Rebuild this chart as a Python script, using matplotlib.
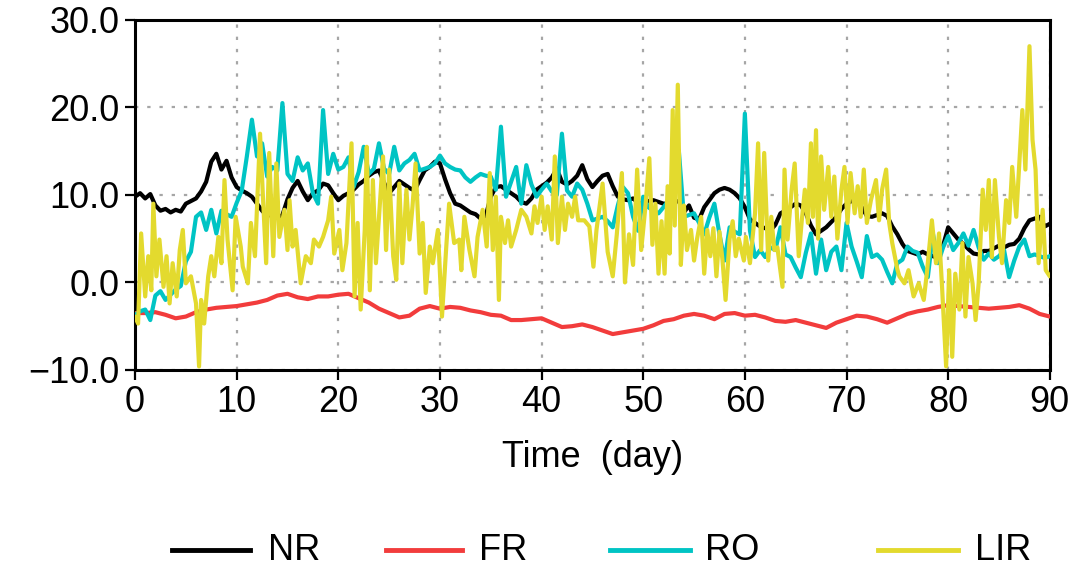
import numpy as np
import matplotlib
matplotlib.use("Agg")
import matplotlib.pyplot as plt
from matplotlib.lines import Line2D
from matplotlib.ticker import FuncFormatter

plt.rcParams["font.family"] = ["Liberation Sans", "DejaVu Sans"]

# ---- data ----
# FR: daily values, day 0..90
fr = [-3.5, -3.5, -3.4, -3.7, -4.1, -3.9, -3.4, -3.1, -2.9, -2.8,
      -2.7, -2.5, -2.3, -2.0, -1.5, -1.3, -1.7, -1.9, -1.6, -1.6,
      -1.4, -1.3, -1.8, -2.3, -3.0, -3.5, -4.0, -3.8, -3.0, -2.7,
      -3.0, -2.8, -2.9, -3.2, -3.4, -3.7, -3.8, -4.3, -4.3, -4.2,
      -4.1, -4.6, -5.1, -5.0, -4.8, -5.1, -5.5, -5.9, -5.7, -5.5,
      -5.3, -4.9, -4.4, -4.2, -3.8, -3.6, -3.8, -4.2, -3.6, -3.5,
      -3.8, -3.7, -4.0, -4.4, -4.5, -4.3, -4.6, -4.9, -5.2, -4.6,
      -4.2, -3.8, -3.9, -4.2, -4.6, -4.1, -3.6, -3.3, -3.1, -2.8,
      -2.6, -2.7, -2.8, -2.9, -3.0, -2.9, -2.8, -2.6, -3.0, -3.6,
      -3.9]

# NR: half-day values, day 0..90
nr = [9.8, 10.2, 9.6, 10.1, 8.8, 8.2, 8.4, 8.0, 8.3, 8.1,
      9.0, 9.3, 9.6, 10.4, 11.5, 13.8, 14.7, 12.9, 13.9, 12.0,
      10.9, 10.5, 10.2, 9.8, 9.0, 8.2, 7.6, 7.8, 7.4, 7.7,
      9.5, 10.8, 11.6, 10.4, 9.4, 10.2, 10.5, 11.3, 11.1, 10.2,
      9.4, 9.9, 10.2, 10.6, 11.2, 11.6, 12.2, 12.6, 12.8, 11.4,
      10.2, 10.9, 11.6, 11.2, 10.8, 10.5, 11.7, 12.8, 13.2, 13.8,
      13.6, 11.8, 10.2, 9.0, 8.8, 8.4, 8.0, 7.8, 7.3, 7.6,
      9.8, 10.9, 11.0, 10.6, 10.2, 9.8, 9.2, 9.0, 9.6, 10.6,
      11.0, 11.4, 12.0, 13.0, 11.5, 11.2, 11.6, 12.2, 13.4, 11.8,
      10.9, 11.6, 12.2, 12.4, 11.0, 9.8, 9.5, 9.4, 9.6, 9.1,
      9.0, 9.3, 9.4, 9.2, 9.0, 9.0, 9.2, 9.3, 8.0, 8.8,
      7.4, 7.2, 8.6, 9.4, 10.2, 10.6, 10.8, 10.6, 10.2, 9.6,
      8.6, 7.2, 6.8, 6.4, 6.2, 5.9, 6.6, 7.9, 8.2, 8.6,
      9.0, 8.8, 7.9, 6.5, 5.5, 5.9, 6.3, 6.9, 7.5, 8.4,
      9.0, 9.3, 9.4, 8.6, 7.6, 7.5, 7.7, 7.9, 7.6, 6.4,
      5.5, 4.4, 3.6, 3.4, 3.2, 3.5, 3.2, 3.0, 2.8, 4.2,
      6.3, 5.6, 4.9, 4.4, 3.8, 3.3, 3.2, 3.6, 3.6, 3.9,
      4.2, 4.0, 4.3, 4.4, 5.0, 6.2, 7.1, 7.3, 7.5, 6.4,
      6.7]

# RO: half-day values, day 0..90
ro = [-3.7, -3.3, -3.1, -4.3, -1.5, -1.0, -2.0, -1.4, -0.8, -0.4,
      2.4, 3.5, 7.5, 8.0, 6.0, 8.3, 5.6, 8.2, 7.8, 7.5,
      9.1, 10.5, 14.4, 18.6, 14.4, 15.9, 12.1, 13.2, 12.8, 20.5,
      12.4, 11.6, 14.3, 12.8, 13.6, 10.2, 9.0, 19.7, 12.4, 14.7,
      12.9, 13.2, 14.3, 10.9, 12.6, 15.5, 12.4, 13.0, 15.9, 13.0,
      12.4, 15.5, 12.8, 13.6, 14.0, 14.7, 12.8, 13.0, 13.2, 13.6,
      14.5, 13.6, 13.2, 12.9, 12.8, 12.0, 11.5, 12.0, 12.4, 12.2,
      12.1, 10.6, 17.8, 9.8, 11.5, 13.2, 9.0, 13.4, 11.2, 9.8,
      10.6, 11.3, 10.4, 10.0, 17.0, 10.5, 9.8, 11.3, 10.6, 9.0,
      7.1, 7.3, 7.5, 7.0, 6.3, 8.8, 10.9, 10.2, 7.5, 5.9,
      9.8, 8.6, 8.2, 7.9, 8.6, 9.4, 11.0, 15.1, 7.5, 7.7,
      7.9, 6.8, 5.5, 7.4, 9.0, 5.5, 2.5, 6.3, 5.8, 5.5,
      19.3, 5.9, 2.9, 3.7, 2.9, 4.0, 3.7, 6.3, 3.2, 2.9,
      1.7, 0.6, 3.4, 5.6, 1.0, 4.9, 1.4, 3.5, 4.1, 1.4,
      6.8, 4.1, 2.4, 0.6, 5.3, 2.9, 3.2, 2.6, 1.2, -0.1,
      2.2, 2.6, 4.1, 3.6, 3.4, 1.8, 0.6, 5.6, 2.2, 4.0,
      5.3, 3.7, 4.5, 5.6, 4.2, 6.0, 4.0, 2.6, 3.3, 2.6,
      3.0, 3.7, 0.6, 2.5, 4.1, 4.9, 3.0, 3.2, 3.0, 2.8,
      3.0]

# LIR: irregular sample times
lir_day = [0.0, 0.3, 0.6, 1.0, 1.3, 1.6, 1.8, 2.1, 2.4, 2.8, 3.1, 3.4, 3.7, 4.1, 4.4,
           4.7, 5.0, 5.5, 6.0, 6.3, 6.5, 6.8, 7.2, 7.5, 7.8, 8.2, 8.5, 8.8, 9.1, 9.6,
           9.9, 10.4, 10.6, 11.1, 11.4, 11.8, 12.3, 12.6, 12.9, 13.2, 13.6, 13.9, 14.2, 14.7, 15.0,
           15.2, 15.5, 15.8, 16.3, 16.8, 17.3, 17.6, 18.1, 18.5, 19.0, 19.3, 19.6, 20.1, 20.4, 20.8,
           21.3, 21.6, 21.9, 22.2, 22.6, 22.8, 23.1, 23.4, 23.7, 24.0, 24.4, 24.7, 25.0, 25.4, 25.7,
           26.0, 26.3, 26.7, 27.0, 27.3, 27.6, 28.0, 28.3, 28.6, 29.0, 29.3, 29.8, 30.2, 30.6, 30.9,
           31.4, 31.9, 32.1, 32.4, 32.9, 33.4, 33.7, 34.2, 34.6, 34.9, 35.2, 35.5, 35.8, 36.0, 36.4,
           36.7, 37.0, 37.5, 38.0, 38.5, 39.0, 39.3, 39.6, 40.0, 40.3, 40.6, 41.0, 41.3, 41.6, 42.0,
           42.3, 42.6, 43.0, 43.3, 43.6, 44.2, 44.7, 45.1, 45.4, 46.0, 46.5, 47.0, 47.4, 47.9, 48.2,
           48.6, 49.0, 49.4, 49.8, 50.2, 50.6, 50.9, 51.2, 51.5, 51.8, 52.1, 52.4, 52.6, 52.9, 53.1,
           53.4, 53.7, 54.0, 54.3, 54.7, 55.0, 55.3, 55.7, 56.0, 56.3, 56.6, 56.9, 57.2, 57.5, 57.8,
           58.1, 58.5, 58.8, 59.1, 59.4, 59.9, 60.1, 60.5, 61.0, 61.3, 61.6, 61.9, 62.3, 62.6, 62.9,
           63.2, 63.7, 63.9, 64.2, 64.6, 64.9, 65.3, 65.6, 65.9, 66.2, 66.5, 66.7, 67.0, 67.2, 67.5,
           67.8, 68.2, 68.5, 68.8, 69.1, 69.5, 69.8, 70.1, 70.4, 70.8, 71.1, 71.4, 71.7, 72.0, 72.4,
           72.9, 73.2, 73.5, 73.9, 74.2, 74.5, 75.0, 75.2, 75.7, 76.1, 76.6, 77.1, 77.6, 77.9, 78.4,
           78.8, 79.1, 79.4, 79.8, 80.1, 80.4, 80.7, 81.1, 81.4, 81.7, 82.0, 82.4, 82.7, 83.0, 83.4,
           83.7, 84.0, 84.3, 84.6, 85.0, 85.3, 85.7, 86.0, 86.3, 86.7, 87.0, 87.3, 87.6, 88.0, 88.3,
           88.6, 88.9, 89.3, 89.6, 90.0]
lir_val = [-3.9, -4.7, 5.6, -1.6, 3.0, -0.9, 9.0, 0.7, 4.9, -0.5, 3.0, -2.4, 2.2, -1.6, 3.7,
           6.0, -0.1, 0.7, -2.4, -9.6, -2.0, -4.7, 0.7, 3.0, 0.7, 5.2, 2.2, 11.7, 4.9, -0.9,
           7.5, 4.1, 1.8, -0.1, 6.8, 3.0, 17.0, 9.4, 2.2, 14.8, 3.0, 13.6, 5.2, 8.3, 3.7,
           9.4, 4.1, 6.0, -0.1, 3.0, 2.2, 4.9, 4.1, 5.2, 7.1, 9.8, 3.3, 6.0, 1.4, 4.5,
           15.9, -1.6, 6.8, -3.1, 6.0, 15.5, -0.9, 11.7, 2.2, 7.5, 14.4, 3.7, 12.9, 3.0, 0.3,
           11.3, 2.2, 10.6, 4.9, 8.7, 13.6, 3.3, 6.8, -1.2, 4.1, 2.2, 6.0, -3.9, 3.7, 9.0,
           4.5, 4.9, 1.4, 7.5, 3.7, 0.7, 5.2, 8.3, 4.1, 12.5, 3.7, 9.8, -2.0, 7.5, 4.5,
           7.1, 4.1, 6.0, 8.3, 7.5, 5.6, 8.7, 6.8, 9.8, 6.0, 8.7, 4.9, 14.4, 4.5, 9.8,
           6.0, 9.0, 7.5, 9.8, 7.1, 7.1, 6.4, 1.8, 6.0, 11.3, 3.5, 0.7, 5.5, 12.5, 0.0,
           5.5, 2.0, 12.9, 3.7, 8.5, 14.2, 4.3, 9.0, 1.0, 7.0, 1.0, 11.0, 3.3, 19.7, 6.5,
           22.6, 2.0, 8.8, 3.7, 6.0, 2.5, 5.0, 7.5, 1.0, 6.0, 3.0, 6.2, 0.7, 5.8, 2.5,
           -2.0, 5.0, 7.0, 3.0, 5.0, 2.5, 5.2, 2.2, 7.9, 15.9, 3.7, 14.8, 2.5, 7.5, 3.7,
           4.0, -0.5, 12.9, 4.9, 10.6, 13.6, 3.0, 7.1, 10.6, 6.8, 15.9, 7.5, 17.4, 5.0, 14.4,
           8.3, 13.2, 7.5, 12.1, 5.0, 10.6, 13.2, 6.8, 12.5, 7.9, 11.0, 7.5, 12.9, 6.8, 9.4,
           11.7, 7.1, 10.6, 12.9, 6.8, 4.5, 1.5, 0.7, -0.1, 1.4, -1.6, -0.1, -2.0, 1.0, 7.1,
           2.2, 5.6, -0.5, -9.6, 1.4, -8.5, 1.0, -3.1, 4.5, -3.9, 2.9, -0.1, -4.3, -0.1, 10.6,
           6.0, 11.7, 2.9, 11.7, 5.2, 2.2, 9.4, 6.8, 13.2, 7.5, 13.6, 19.7, 12.9, 27.0, 16.3,
           12.9, 2.2, 8.3, 1.4, 0.7]

series_names = ["NR", "FR", "RO", "LIR"]
series_colors = ["black", "#f23c3c", "#00c4c4", "#e3da2e"]

day_half = np.linspace(0, 90, len(nr))
day_full = np.linspace(0, 90, len(fr))
day_ro = np.linspace(0, 90, len(ro))

fig = plt.figure(figsize=(10.89, 5.70), dpi=100)
ax = fig.add_axes([0.124, 0.351, 0.840, 0.614])

lw = 3.0
kw = dict(lw=lw, solid_joinstyle="round", solid_capstyle="round")
ax.plot(day_half, nr, color=series_colors[0], zorder=3, **kw)
ax.plot(day_full, fr, color=series_colors[1], zorder=3, **kw)
ax.plot(day_ro, ro, color=series_colors[2], zorder=4, **kw)
ax.plot(lir_day, lir_val, color=series_colors[3], zorder=5, **kw)

ax.set_xlim(0, 90)
ax.set_ylim(-10, 30)
ax.set_xticks(np.arange(0, 91, 10))
ax.set_yticks(np.arange(-10, 31, 10))
ax.yaxis.set_major_formatter(FuncFormatter(lambda v, p: f"{v:.1f}".replace("-", "\u2212")))

ax.grid(True, color="#a6a6a6", linestyle=(0, (1.5, 4)), linewidth=1.6, zorder=1)
for s in ax.spines.values():
    s.set_linewidth(2.2)
ax.tick_params(direction="out", length=7, width=1.6, labelsize=26, pad=4)

ax.set_xlabel("Time  (day)", fontsize=26, labelpad=14)

# legend row along the bottom
leg_y = 0.035
leg_pos = [(0.158, 0.230, 0.246), (0.354, 0.424, 0.440),
           (0.560, 0.634, 0.647), (0.806, 0.880, 0.895)]
for (x0, x1, xt), name, c in zip(leg_pos, series_names, series_colors):
    fig.add_artist(Line2D([x0, x1], [leg_y, leg_y], color=c, lw=3.5,
                          transform=fig.transFigure))
    fig.text(xt, leg_y, name, fontsize=26, va="center", ha="left")

fig.savefig("out.png", dpi=100)
